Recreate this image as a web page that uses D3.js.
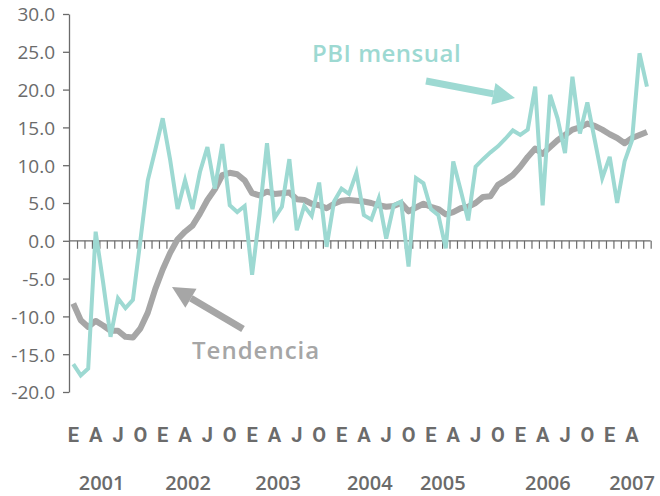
<!DOCTYPE html>
<html>
<head>
<meta charset="utf-8">
<script src="https://cdn.jsdelivr.net/npm/d3@7"></script>
<style>
  body { margin: 0; background: #fff; }
  svg { display: block; }
</style>
</head>
<body>
<div id="chart"></div>
<script>
// valores mensuales, enero 2001 a junio 2007
var pbiMensual = [
  -16.3, -17.8, -16.9, 1.2, -5.5, -12.7, -7.6, -8.9, -7.8, 0.0, 8.0, 12.0,
  16.2, 10.7, 4.2, 8.0, 4.2, 9.1, 12.4, 6.9, 12.8, 4.7, 3.8, 4.6,
  -4.5, 3.5, 12.9, 3.0, 4.5, 10.8, 1.4, 4.6, 3.3, 7.7, -0.8, 5.2,
  6.9, 6.2, 9.0, 3.4, 2.8, 5.6, 0.3, 4.7, 5.2, -3.4, 8.3, 7.6,
  4.2, 3.4, -1.0, 10.5, 6.7, 2.7, 9.8, 10.8, 11.7, 12.5, 13.5, 14.6,
  14.0, 14.7, 20.4, 4.7, 19.3, 16.2, 11.6, 21.7, 14.2, 18.3, 13.3, 8.3,
  11.1, 5.0, 10.5, 13.3, 24.8, 20.4
];
var tendencia = [
  -8.3, -10.5, -11.4, -10.6, -11.2, -11.9, -11.9, -12.7, -12.8, -11.6, -9.5, -6.4,
  -3.8, -1.6, 0.2, 1.2, 2.0, 3.6, 5.4, 6.8, 8.7, 9.0, 8.8, 8.0,
  6.3, 6.0, 6.5, 6.2, 6.3, 6.4, 5.5, 5.4, 4.9, 4.7, 4.3, 4.9,
  5.3, 5.4, 5.3, 5.2, 5.0, 4.7, 4.5, 4.6, 5.0, 3.9, 4.4, 4.9,
  4.5, 4.2, 3.5, 3.8, 4.3, 4.5, 5.0, 5.8, 5.9, 7.4, 8.0, 8.7,
  9.8, 11.1, 12.2, 11.5, 12.4, 13.3, 14.0, 14.7, 15.0, 15.5, 15.2, 14.7,
  14.1, 13.6, 12.9, 13.6, 14.0, 14.4
];
var mesLetras = ["E", "A", "J", "O"];          // enero, abril, julio, octubre
var anios = ["2001", "2002", "2003", "2004", "2005", "2006", "2007"];
var anioMes = [3.8, 15.4, 27.5, 39.8, 49.6, 63.7, 75];  // donde va cada rotulo de año
var yTicks = [-20, -15, -10, -5, 0, 5, 10, 15, 20, 25, 30];

var width = 660, height = 496;
var verde = "#9dd9d2", gris = "#a6a6a6", texto = "#6b6b6b";

var svg = d3.select("#chart").append("svg")
    .attr("width", width)
    .attr("height", height);

var n = pbiMensual.length;
var x = d3.scaleLinear().domain([0, n - 1]).range([73.3, 73.3 + 7.45 * (n - 1)]);
var y = d3.scaleLinear().domain([-20, 30]).range([392, 14]);
var ejeX = 69;

// eje y
var yAxis = svg.append("g")
    .attr("transform", "translate(" + ejeX + ",0)")
    .call(d3.axisLeft(y).tickValues(yTicks).tickSize(6).tickSizeOuter(0)
        .tickFormat(function(d) { return d.toFixed(1); }));
yAxis.select(".domain").attr("stroke", texto).attr("stroke-width", 1.3);
yAxis.selectAll(".tick line").attr("stroke", texto).attr("stroke-width", 1.3);
yAxis.selectAll(".tick text")
    .attr("x", -14)
    .attr("dy", "0.36em")
    .attr("fill", texto)
    .style("font-family", "'Open Sans', sans-serif")
    .style("font-size", "19px");

// eje x en cero, con una marca por mes
var xAxis = svg.append("g")
    .attr("transform", "translate(0," + y(0) + ")")
    .call(d3.axisBottom(x).tickValues(d3.range(n).map(function(i) { return i + 0.5; }))
        .tickSize(8).tickSizeOuter(0).tickFormat(""));
xAxis.select(".domain").remove();
xAxis.selectAll(".tick line").attr("stroke", texto).attr("stroke-width", 1.2);
xAxis.append("line")
    .attr("x1", ejeX).attr("x2", x(n - 0.5))
    .attr("stroke", texto).attr("stroke-width", 1.3);

// rotulos de meses
var trimestres = d3.range(0, n, 3);
svg.append("g").selectAll("text")
    .data(trimestres)
    .enter().append("text")
    .attr("x", function(d) { return x(d); })
    .attr("y", 442)
    .attr("text-anchor", "middle")
    .attr("fill", texto)
    .style("font-family", "'Liberation Sans Narrow', 'Roboto', sans-serif")
    .style("font-weight", "bold")
    .style("font-size", "20px")
    .text(function(d, i) { return mesLetras[i % 4]; });

// rotulos de años
svg.append("g").selectAll("text")
    .data(anios)
    .enter().append("text")
    .attr("x", function(d, i) { return x(anioMes[i]); })
    .attr("y", 490)
    .attr("text-anchor", "middle")
    .attr("fill", texto)
    .style("font-family", "'Open Sans', sans-serif")
    .style("font-weight", 600)
    .style("font-size", "20px")
    .text(function(d) { return d; });

var linea = d3.line()
    .x(function(d, i) { return x(i); })
    .y(function(d) { return y(d); });

svg.append("path")
    .datum(tendencia)
    .attr("d", linea)
    .attr("fill", "none")
    .attr("stroke", gris)
    .attr("stroke-width", 6)
    .attr("stroke-linejoin", "round");

svg.append("path")
    .datum(pbiMensual)
    .attr("d", linea)
    .attr("fill", "none")
    .attr("stroke", verde)
    .attr("stroke-width", 4)
    .attr("stroke-linejoin", "miter");

// flechas de anotacion
function flecha(x1, y1, x2, y2, color) {
    var ang = Math.atan2(y2 - y1, x2 - x1);
    var largo = 22, ancho = 11;
    var bx = x2 - largo * Math.cos(ang), by = y2 - largo * Math.sin(ang);
    svg.append("line")
        .attr("x1", x1).attr("y1", y1).attr("x2", bx).attr("y2", by)
        .attr("stroke", color).attr("stroke-width", 7);
    var px = -Math.sin(ang) * ancho, py = Math.cos(ang) * ancho;
    svg.append("polygon")
        .attr("points", [[x2, y2], [bx + px, by + py], [bx - px, by - py]].join(" "))
        .attr("fill", color);
}
flecha(426, 81, 515, 98, verde);
flecha(243, 329, 172, 287, gris);

svg.append("text")
    .attr("x", 312).attr("y", 62)
    .attr("fill", verde)
    .style("font-family", "'Open Sans', sans-serif")
    .style("font-weight", 600)
    .style("font-size", "24px")
    .style("letter-spacing", "0.5px")
    .text("PBI mensual");

svg.append("text")
    .attr("x", 192).attr("y", 359)
    .attr("fill", gris)
    .style("font-family", "'Open Sans', sans-serif")
    .style("font-weight", 600)
    .style("font-size", "24px")
    .style("letter-spacing", "1px")
    .text("Tendencia");
</script>
</body>
</html>
